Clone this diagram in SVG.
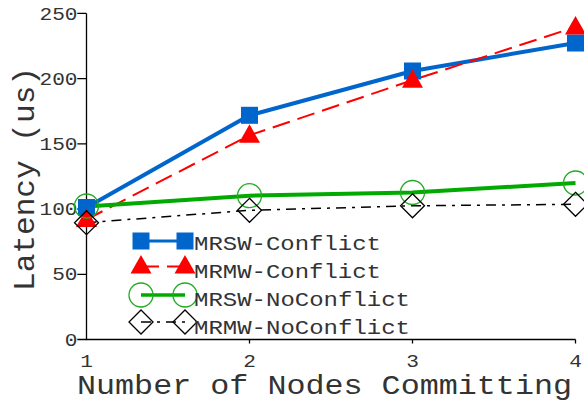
<svg xmlns="http://www.w3.org/2000/svg" xmlns:xlink="http://www.w3.org/1999/xlink" width="584" height="402" viewBox="0 0 584 402">
<style>
  text { font-family: "Liberation Mono", "Courier New", monospace; fill: #333; }
  .tick { font-size: 17.5px; }
  .leg { font-size: 20px; }
  .title { font-size: 28px; }
  .axis { stroke: #000; stroke-width: 1.3; fill: none; }
  .blue { stroke: #0066cc; stroke-width: 4; fill: none; stroke-linejoin: round; }
  .red { stroke: #ff0000; stroke-width: 2; fill: none; stroke-dasharray: 18 8; }
  .green { stroke: #00aa00; stroke-width: 4; fill: none; }
  .black { stroke: #000; stroke-width: 1.5; fill: none; stroke-dasharray: 10 6 3 6; }
  .sq { fill: #0066cc; }
  .tri { fill: #ff0000; }
  .circ { fill: none; stroke: #22aa22; stroke-width: 1.3; }
  .dia { fill: none; stroke: #000; stroke-width: 1.3; }
</style>
<defs>
  <rect id="m-sq" class="sq" x="-8.5" y="-8.5" width="17" height="17"/>
  <polygon id="m-tri" class="tri" points="0,-11 10.5,7.5 -10.5,7.5"/>
  <circle id="m-circ" class="circ" r="12"/>
  <polygon id="m-dia" class="dia" points="0,-12 12,0 0,12 -12,0"/>
</defs>

<g id="axes">
  <path class="axis" d="M86.5,13.4 V339.5 H575.5"/>
  <path class="axis" d="M77.3,13.4 H86.5 M77.3,78.6 H86.5 M77.3,143.8 H86.5 M77.3,209 H86.5 M77.3,274.3 H86.5 M77.3,339.5 H86.5"/>
  <path class="axis" d="M249.5,339.5 V343.5 M412.5,339.5 V343.5 M575.5,339.5 V343.5"/>
  <g id="ytick-labels" text-anchor="end">
    <text class="tick" x="77.5" y="19.6" textLength="38" lengthAdjust="spacingAndGlyphs">250</text>
    <text class="tick" x="77.5" y="84.6" textLength="38" lengthAdjust="spacingAndGlyphs">200</text>
    <text class="tick" x="77.5" y="149.8" textLength="38" lengthAdjust="spacingAndGlyphs">150</text>
    <text class="tick" x="77.5" y="215" textLength="38" lengthAdjust="spacingAndGlyphs">100</text>
    <text class="tick" x="77.5" y="280.3" textLength="25.3" lengthAdjust="spacingAndGlyphs">50</text>
    <text class="tick" x="77.5" y="345.8" textLength="12.7" lengthAdjust="spacingAndGlyphs">0</text>
  </g>
  <g id="xtick-labels" text-anchor="middle">
    <text class="tick" x="86.5" y="367" textLength="12.7" lengthAdjust="spacingAndGlyphs">1</text>
    <text class="tick" x="249.5" y="367" textLength="12.7" lengthAdjust="spacingAndGlyphs">2</text>
    <text class="tick" x="412.5" y="367" textLength="12.7" lengthAdjust="spacingAndGlyphs">3</text>
    <text class="tick" x="575.5" y="367" textLength="12.7" lengthAdjust="spacingAndGlyphs">4</text>
  </g>
  <text id="x-title" class="title" x="77" y="394" textLength="495" lengthAdjust="spacingAndGlyphs">Number of Nodes Committing</text>
  <text id="y-title" class="title" text-anchor="middle" transform="translate(33.5,179) rotate(-90)" x="0" y="0" font-size="30" style="font-size:30px" textLength="224" lengthAdjust="spacingAndGlyphs">Latency (us)</text>
</g>

<g id="connectors">
  <polyline id="line-mrsw-conflict" class="blue" points="86.5,207.5 249.5,115.3 412.5,71 575.5,43"/>
  <polyline id="line-mrmw-conflict" class="red" points="86.5,219.5 249.5,135.3 412.5,80.2 575.5,27"/>
  <polyline id="line-mrsw-noconflict" class="green" points="86.5,206.5 249.5,195.7 412.5,192.5 575.5,183"/>
  <polyline id="line-mrmw-noconflict" class="black" points="86.5,222.7 249.5,210.3 412.5,205.8 575.5,204.3"/>
</g>

<g id="series-mrsw-conflict">
  <use xlink:href="#m-sq" href="#m-sq" x="86.5" y="207.5"/>
  <use xlink:href="#m-sq" href="#m-sq" x="249.5" y="115.3"/>
  <use xlink:href="#m-sq" href="#m-sq" x="412.5" y="71"/>
  <use xlink:href="#m-sq" href="#m-sq" x="575.5" y="43"/>
</g>
<g id="series-mrmw-conflict">
  <use xlink:href="#m-tri" href="#m-tri" x="86.5" y="219.5"/>
  <use xlink:href="#m-tri" href="#m-tri" x="249.5" y="135.3"/>
  <use xlink:href="#m-tri" href="#m-tri" x="412.5" y="80.2"/>
  <use xlink:href="#m-tri" href="#m-tri" x="575.5" y="27"/>
</g>
<g id="series-mrsw-noconflict">
  <use xlink:href="#m-circ" href="#m-circ" x="86.5" y="206"/>
  <use xlink:href="#m-circ" href="#m-circ" x="249.5" y="195.7"/>
  <use xlink:href="#m-circ" href="#m-circ" x="412.5" y="192.5"/>
  <use xlink:href="#m-circ" href="#m-circ" x="575.5" y="183"/>
</g>
<g id="series-mrmw-noconflict">
  <use xlink:href="#m-dia" href="#m-dia" x="86.5" y="222.7"/>
  <use xlink:href="#m-dia" href="#m-dia" x="249.5" y="210.3"/>
  <use xlink:href="#m-dia" href="#m-dia" x="412.5" y="205.8"/>
  <use xlink:href="#m-dia" href="#m-dia" x="575.5" y="204.3"/>
</g>

<g id="legend">
  <g id="legend-mrsw-conflict">
    <line x1="141" y1="241" x2="185" y2="241" class="blue" style="stroke-width:3"/>
    <use xlink:href="#m-sq" href="#m-sq" x="141" y="241"/>
    <use xlink:href="#m-sq" href="#m-sq" x="185" y="241"/>
    <text class="leg" x="194" y="249.5" textLength="187" lengthAdjust="spacingAndGlyphs">MRSW-Conflict</text>
  </g>
  <g id="legend-mrmw-conflict">
    <line x1="141" y1="266.5" x2="185" y2="266.5" class="red"/>
    <use xlink:href="#m-tri" href="#m-tri" x="141" y="266"/>
    <use xlink:href="#m-tri" href="#m-tri" x="185" y="266"/>
    <text class="leg" x="194" y="277.5" textLength="187" lengthAdjust="spacingAndGlyphs">MRMW-Conflict</text>
  </g>
  <g id="legend-mrsw-noconflict">
    <line x1="141" y1="295" x2="185" y2="295" class="green" style="stroke-width:3.5"/>
    <use xlink:href="#m-circ" href="#m-circ" x="141" y="295"/>
    <use xlink:href="#m-circ" href="#m-circ" x="185" y="295"/>
    <text class="leg" x="194" y="305.5" textLength="216" lengthAdjust="spacingAndGlyphs">MRSW-NoConflict</text>
  </g>
  <g id="legend-mrmw-noconflict">
    <line x1="141" y1="322" x2="185" y2="322" class="black"/>
    <use xlink:href="#m-dia" href="#m-dia" x="141" y="322"/>
    <use xlink:href="#m-dia" href="#m-dia" x="185" y="322"/>
    <text class="leg" x="194" y="333.5" textLength="216" lengthAdjust="spacingAndGlyphs">MRMW-NoConflict</text>
  </g>
</g>
</svg>
